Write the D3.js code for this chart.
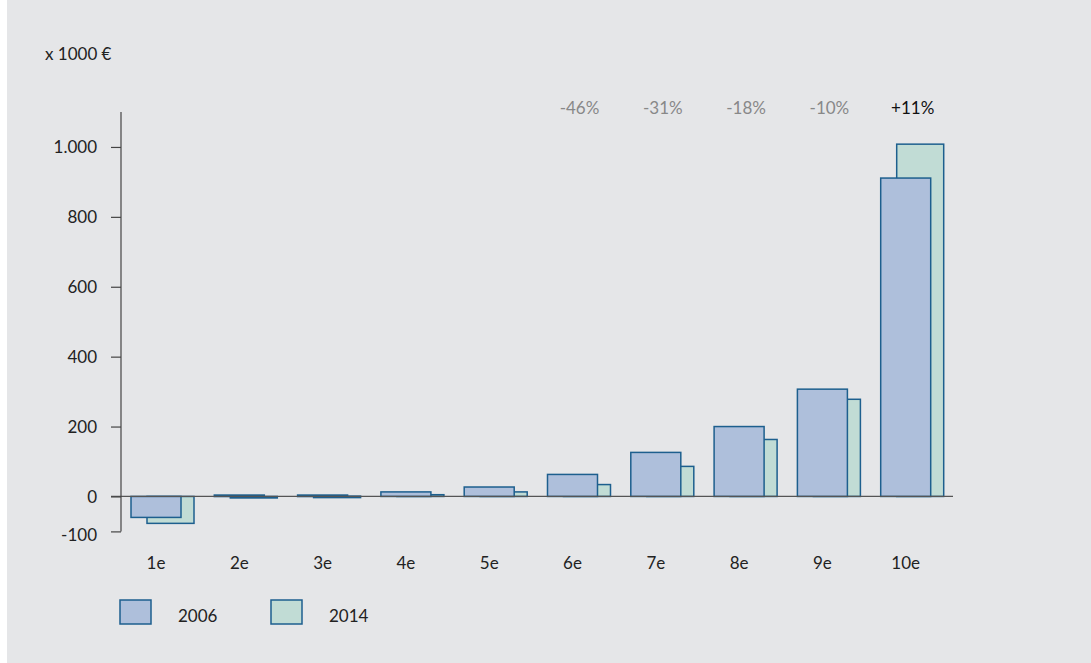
<!DOCTYPE html>
<html>
<head>
<meta charset="utf-8">
<script src="https://cdn.jsdelivr.net/npm/d3@7"></script>
<style>
  body { margin: 0; background: #fff; }
  svg text { font-family: Lato, "Open Sans", sans-serif; }
</style>
</head>
<body>
<svg id="chart" width="1091" height="663"></svg>
<script>
// data
var categories = ["1e","2e","3e","4e","5e","6e","7e","8e","9e","10e"];
var values2006 = [-60, 4, 4, 13, 27, 63, 126, 200, 307, 911];
var values2014 = [-77, -4, 1, 5, 13, 34, 86, 163, 278, 1008];
var changeLabels = ["", "", "", "", "", "-46%", "-31%", "-18%", "-10%", "+11%"];
var yTicks = [-100, 0, 200, 400, 600, 800, 1000];
var seriesNames = ["2006", "2014"];

const svg = d3.select("#chart")
const colBlue = "#aebfdb", colGreen = "#c1dcd5", colStroke = "#1d5f8e"
const fs = "17px"

svg.append("rect").attr("x", 7).attr("y", 0).attr("width", 1084).attr("height", 663).attr("fill", "#e5e6e8")

const x = d3.scaleBand().domain(categories).range([117, 950])
const y = d3.scaleLinear().domain([-100, 1100]).range([531.4, 112])

const loc = d3.formatLocale({decimal: ",", thousands: ".", grouping: [3], currency: ["", "€"], minus: "-"})
const fmt = loc.format(",")

// unit label
svg.append("text").attr("x", 45).attr("y", 60).attr("font-size", fs).attr("fill", "#222").text("x 1000 €")

// green bars (behind)
svg.append("g").selectAll("rect")
    .data(values2014)
    .enter()
    .append("rect")
    .attr("x", (d,i)=> x(categories[i]) + 30)
    .attr("width", 47)
    .attr("y", d => Math.min(y(d), y(0)))
    .attr("height", d => Math.max(1.5, Math.abs(y(d) - y(0))))
    .attr("fill", colGreen)
    .attr("stroke", colStroke)
    .attr("stroke-width", 1.5)

// blue bars (front)
svg.append("g").selectAll("rect")
    .data(values2006)
    .enter()
    .append("rect")
    .attr("x", (d,i)=> x(categories[i]) + 14)
    .attr("width", 50)
    .attr("y", d => Math.min(y(d), y(0)))
    .attr("height", d => Math.max(1.5, Math.abs(y(d) - y(0))))
    .attr("fill", colBlue)
    .attr("stroke", colStroke)
    .attr("stroke-width", 1.5)

// x axis line
svg.append("line")
    .attr("x1", 111).attr("x2", 953)
    .attr("y1", y(0)).attr("y2", y(0))
    .attr("stroke", "#555").attr("stroke-width", 1.2)

// y axis
const yAxis = svg.append("g")
    .attr("transform", "translate(121,0)")
    .call(d3.axisLeft(y).tickValues(yTicks).tickSize(10).tickSizeOuter(0).tickFormat(fmt))
yAxis.select(".domain").attr("stroke", "#444").attr("stroke-width", 1.2)
    .attr("d", `M0,${y(-100)}V112`)
yAxis.selectAll(".tick line").attr("stroke", "#444").attr("stroke-width", 1.2)
yAxis.selectAll(".tick text")
    .attr("x", -24)
    .attr("dy", (d)=> d == -100 ? "0.55em" : "0.35em")
    .attr("font-size", fs)
    .attr("fill", "#222")

// category labels
svg.append("g").selectAll("text")
    .data(categories)
    .enter()
    .append("text")
    .attr("x", d => x(d) + 39)
    .attr("y", 569)
    .attr("text-anchor", "middle")
    .attr("font-size", fs)
    .attr("fill", "#222")
    .text(d => d)

// change percentages
svg.append("g").selectAll("text")
    .data(changeLabels)
    .enter()
    .append("text")
    .attr("x", (d,i)=> x(categories[i]) + 46)
    .attr("y", 114)
    .attr("text-anchor", "middle")
    .attr("font-size", fs)
    .attr("fill", d => d.charAt(0) == "+" ? "#111" : "#888")
    .text(d => d)

// legend
const legend = svg.append("g").selectAll("g")
    .data(seriesNames)
    .enter()
    .append("g")
    .attr("transform", (d,i)=> `translate(${120 + i*151},600)`)
legend.append("rect")
    .attr("width", 31).attr("height", 24)
    .attr("fill", (d,i)=> i == 0 ? colBlue : colGreen)
    .attr("stroke", colStroke).attr("stroke-width", 1.5)
legend.append("text")
    .attr("x", 58).attr("y", 22)
    .attr("font-size", fs)
    .attr("fill", "#222")
    .text(d => d)
</script>
</body>
</html>
